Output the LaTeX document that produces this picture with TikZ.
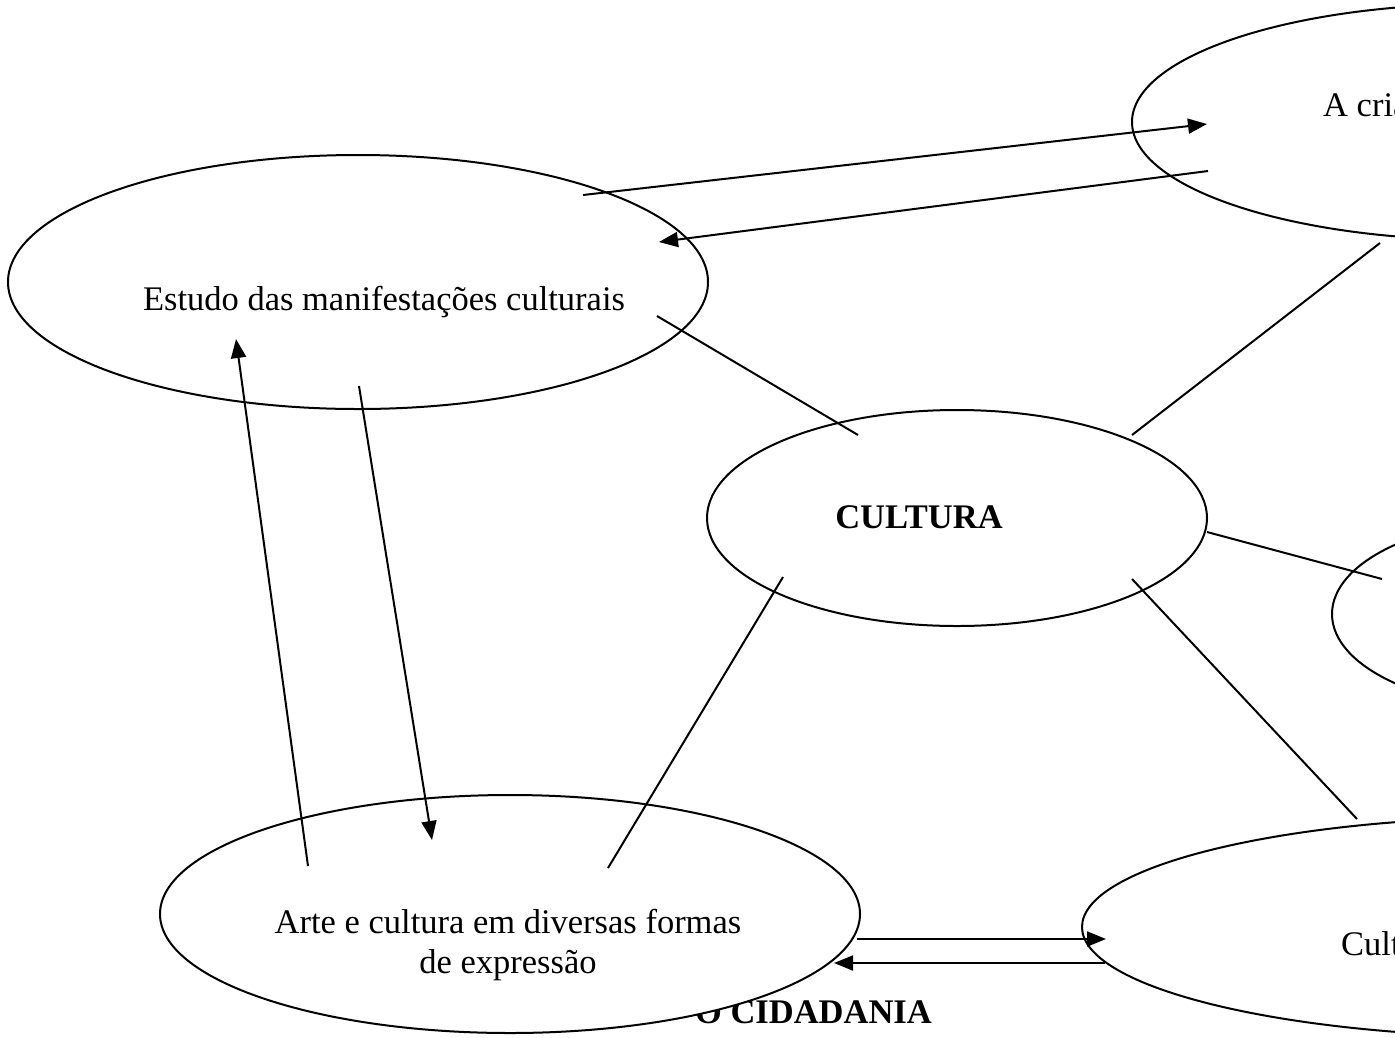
\documentclass[tikz,border=0pt]{standalone}
\usepackage{fontspec}
\setmainfont{Liberation Serif}
\usetikzlibrary{shapes.geometric,arrows.meta}
\tikzset{
  bubble/.style={draw=black, fill=white, ellipse, line width=2pt, inner sep=0pt},
  link/.style={line width=2pt},
  flow/.style={line width=2pt, -{Triangle[length=19pt,width=15pt]}},
  label/.style={font=\fontsize{34.5}{40}\selectfont, inner sep=0pt, anchor=base},
  title/.style={font=\fontsize{34.5}{40}\selectfont\bfseries, inner sep=0pt, anchor=base},
}
\begin{document}
\begin{tikzpicture}[x=1pt, y=-1pt]
\useasboundingbox (0,0) rectangle (1395,1037);
\clip (0,0) rectangle (1395,1037);

% heading partly hidden behind the lower-left bubble
\node[title, anchor=base east] (head) at (932,1023) {O CIDADANIA};

% bubbles
\node[bubble, minimum width=700pt, minimum height=254pt] (estudo) at (358,282) {};
\node[bubble, minimum width=500pt, minimum height=216pt] (cultura) at (957,518) {};
\node[bubble, minimum width=700pt, minimum height=238pt] (arte) at (510,914) {};
\node[bubble, minimum width=700pt, minimum height=236pt] (cria) at (1482,122) {};
\node[bubble, minimum width=400pt, minimum height=190pt] (mid) at (1532,614) {};
\node[bubble, minimum width=900pt, minimum height=220pt] (cult) at (1532,927) {};

% texts
\node[label] (testudo) at (384,310) {Estudo das manifestações culturais};
\node[title] (tcultura) at (919,528) {CULTURA};
\node[label, align=center] (tarte) at (508,973) {Arte e cultura em diversas formas\\de expressão};
\node[label, anchor=base west] (tcria) at (1323,116) {A cria};
\node[label, anchor=base west] (tcult) at (1341,955) {Cultu};

% connector end points
\coordinate (p1) at (583,195);   \coordinate (p2) at (1207,124);
\coordinate (p3) at (1208,171);  \coordinate (p4) at (659,242);
\coordinate (p5) at (657,316);   \coordinate (p6) at (858,435);
\coordinate (p7) at (1132,435);  \coordinate (p8) at (1380,243);
\coordinate (p9) at (1207,532);  \coordinate (p10) at (1382,579);
\coordinate (p11) at (1132,579); \coordinate (p12) at (1357,819);
\coordinate (p13) at (783,577);  \coordinate (p14) at (608,868);
\coordinate (p15) at (308,866);  \coordinate (p16) at (236,339);
\coordinate (p17) at (359,386);  \coordinate (p18) at (432,840);
\coordinate (p19) at (857,939);  \coordinate (p20) at (1106,939);
\coordinate (p21) at (1105,963); \coordinate (p22) at (834,963);

% connectors
\draw[flow] (p1) -- (p2);
\draw[flow] (p3) -- (p4);
\draw[link] (p5) -- (p6);
\draw[link] (p7) -- (p8);
\draw[link] (p9) -- (p10);
\draw[link] (p11) -- (p12);
\draw[link] (p13) -- (p14);
\draw[flow] (p15) -- (p16);
\draw[flow] (p17) -- (p18);
\draw[flow] (p19) -- (p20);
\draw[flow] (p21) -- (p22);
\end{tikzpicture}
\end{document}
